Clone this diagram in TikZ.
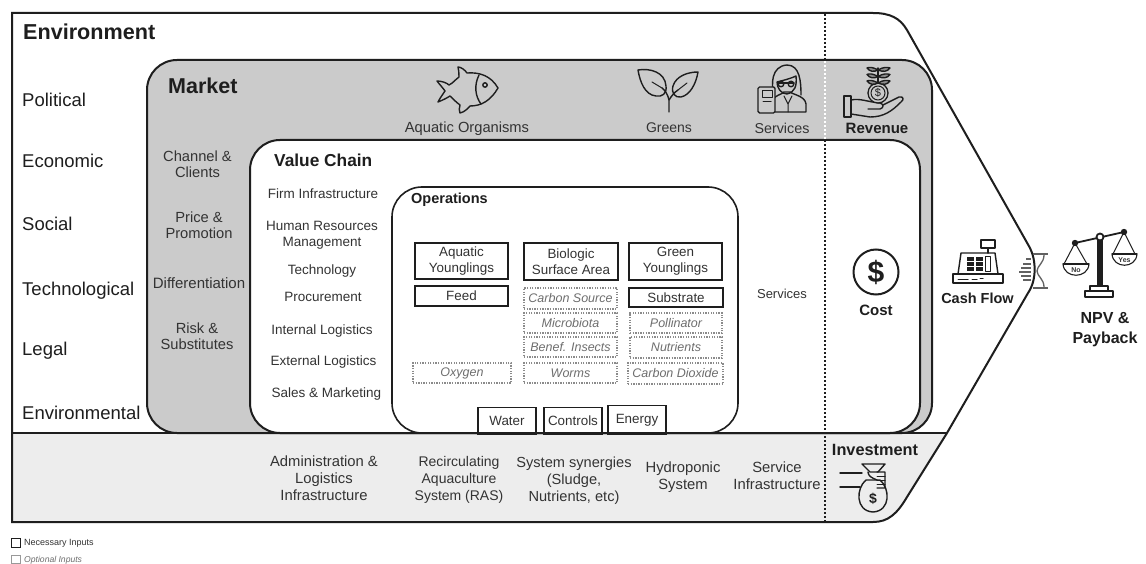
\documentclass[tikz,border=0pt]{standalone}
\usepackage{fontspec}
\setmainfont{Liberation Sans}
\newcommand{\fs}[1]{\fontsize{#1}{#1}\selectfont}
\definecolor{mkt}{HTML}{CBCBCB}
\definecolor{inv}{HTML}{EDEDED}
\definecolor{ink}{HTML}{1E1E1E}
\definecolor{txt}{HTML}{333333}
\definecolor{opt}{HTML}{6E6E6E}
\tikzset{
  frame/.style={draw=ink,line width=2pt},
  lbl/.style={inner sep=0pt,text=txt,align=center,font=\fs{13.5},text depth=0pt},
  mlbl/.style={lbl,font=\fs{14.7}},
  blbl/.style={lbl,font=\fs{14.8}},
  leftlbl/.style={inner sep=0pt,text=ink,anchor=west,font=\fs{18.5}},
  head/.style={inner sep=0pt,text=ink,font=\bfseries\fs{15},align=center},
  necbox/.style={draw=ink,line width=1.7pt,fill=white,inner sep=0pt,text=txt,align=center,font=\fs{13.4}},
  optbox/.style={draw=opt!80,line width=1.1pt,dash pattern=on 1.3pt off 1.3pt,inner sep=0pt,text=opt,font=\itshape\fs{12.5}},
  icon/.style={draw=ink,line width=1.4pt,line join=round,line cap=round},
  iconthin/.style={draw=ink,line width=1pt,line join=round,line cap=round},
}
\begin{document}
\begin{tikzpicture}[x=1pt,y=-1pt]
\useasboundingbox (0,0) rectangle (1146,564);
\fill[white] (0,0) rectangle (1146,564);
% investment band
\fill[inv] (12,433) -- (947,433) -- (907,497) .. controls (897,514) and (888,522) .. (873,522) -- (12,522) -- cycle;
% market
\path[fill=mkt,frame,rounded corners=30pt] (147,433) -- (147,60) -- (932,60) -- (932,433) -- cycle;
% value chain
\path[fill=white,frame,rounded corners=30pt] (250,433) -- (250,140) -- (920,140) -- (920,433) -- cycle;
% operations
\path[fill=white,frame,line width=1.6pt,rounded corners=30pt] (392,433) -- (392,187) -- (738,187) -- (738,433) -- cycle;
% base line and outer outline
\draw[frame] (12,433) -- (947,433);
\draw[frame] (12,13) -- (873,13) .. controls (890,13) and (900,18) .. (907,30) -- (1030,248) .. controls (1036,260) and (1037,280) .. (1028,293) -- (947,433) -- (907,497) .. controls (897,514) and (888,522) .. (873,522) -- (12,522) -- cycle;
% dotted divider
\draw[ink,line width=2.4pt,dash pattern=on 2.4pt off 1.6pt] (825,14) -- (825,60);
\draw[white,line width=2.4pt,dash pattern=on 2.4pt off 1.6pt] (825,61) -- (825,139);
\draw[ink,line width=2.4pt,dash pattern=on 2.4pt off 1.6pt] (825,140) -- (825,521);

% left column
\node[head,anchor=west,font=\bfseries\fs{21.6}] (envt) at (23,32) {Environment};
\node[leftlbl] (pol) at (22,100) {Political};
\node[leftlbl] (eco) at (22,161) {Economic};
\node[leftlbl] (soc) at (22,224) {Social};
\node[leftlbl] (tec) at (22,291) {Technological};
\node[leftlbl] (leg) at (22,351) {Legal};
\node[leftlbl] (envl) at (22,413) {Environmental};

% market
\node[head,anchor=west,font=\bfseries\fs{21.5}] (mkth) at (168,86) {Market};
\node[mlbl] (chan) at (197.5,164) {Channel \&\\[1.5pt]Clients};
\node[mlbl] (price) at (199,225) {Price \&\\[1.5pt]Promotion};
\node[mlbl,font=\fs{15}] (diff) at (199,283) {Differentiation};
\node[mlbl] (risk) at (197,336.5) {Risk \&\\[1.5pt]Substitutes};
\node[mlbl] (aq) at (467,127) {Aquatic Organisms};
\node[mlbl,font=\fs{14}] (gr) at (669,128) {Greens};
\node[mlbl,font=\fs{14.3}] (sv) at (782,128) {Services};
\node[head] (rev) at (877,128) {Revenue};

% value chain
\node[head,anchor=west,font=\bfseries\fs{17.3}] (vch) at (274,160) {Value Chain};
\node[lbl] (firm) at (323,194) {Firm Infrastructure};
\node[lbl] (hr) at (322,234) {Human Resources\\[2.5pt]Management};
\node[lbl] (tech) at (322,270) {Technology};
\node[lbl] (proc) at (323,297) {Procurement};
\node[lbl] (il) at (322,330) {Internal Logistics};
\node[lbl] (el) at (323.5,361) {External Logistics};
\node[lbl] (sm) at (326.5,393) {Sales \& Marketing};
\node[lbl,font=\fs{13}] (sv2) at (782,294) {Services};
\node[head] (cost) at (876,310) {Cost};

% operations
\node[head,anchor=west,font=\bfseries\fs{14.5}] (oph) at (411,200) {Operations};
\node[necbox,minimum width=93pt,minimum height=36pt] (ay) at (461.5,261) {Aquatic\\[2.6pt]Younglings};
\node[necbox,minimum width=94pt,minimum height=37pt] (bs) at (571,261.5) {Biologic\\[2.6pt]Surface Area};
\node[necbox,minimum width=93pt,minimum height=37pt] (gy) at (675.5,261.5) {Green\\[2.6pt]Younglings};
\node[necbox,minimum width=93pt,minimum height=20pt] (feed) at (461.5,296) {Feed};
\node[necbox,minimum width=94pt,minimum height=19pt] (subs) at (676,297.5) {Substrate};
\node[optbox,minimum width=93pt,minimum height=21pt] (cs) at (570.5,298.5) {Carbon Source};
\node[optbox,minimum width=93pt,minimum height=20pt] (mb) at (570.5,323) {Microbiota};
\node[optbox,minimum width=93pt,minimum height=20pt] (bi) at (570.5,347) {Benef. Insects};
\node[optbox,minimum width=93pt,minimum height=20pt] (wo) at (570.5,373) {Worms};
\node[optbox,minimum width=92pt,minimum height=20pt] (po) at (676,323) {Pollinator};
\node[optbox,minimum width=92pt,minimum height=21pt] (nu) at (676,347.5) {Nutrients};
\node[optbox,minimum width=95pt,minimum height=21pt] (cd) at (675.5,373.5) {Carbon Dioxide};
\node[optbox,minimum width=98pt,minimum height=20pt] (ox) at (462,373) {Oxygen};
\node[necbox,minimum width=58pt,minimum height=27pt] (wa) at (507,421) {Water};
\node[necbox,minimum width=58pt,minimum height=27pt] (co) at (573,421) {Controls};
\node[necbox,minimum width=58pt,minimum height=29pt] (en) at (637,420) {Energy};
\draw[frame] (392,433) ++(30,0) -- (708,433);

% investment row
\node[blbl] (adm) at (324,478) {Administration \&\\[2.2pt]Logistics\\[2.2pt]Infrastructure};
\node[blbl,font=\fs{14}] (ras) at (459,478) {Recirculating\\[3pt]Aquaculture\\[3pt]System (RAS)};
\node[blbl,font=\fs{14.6}] (syn) at (574,479) {System synergies\\[2.4pt](Sludge,\\[2.4pt]Nutrients, etc)};
\node[blbl] (hyd) at (683,475.5) {Hydroponic\\[2.2pt]System};
\node[blbl] (svi) at (777,475.5) {Service\\[2.2pt]Infrastructure};
\node[head,font=\bfseries\fs{16.3}] (invh) at (875,450) {Investment};

% right
\node[head,font=\bfseries\fs{14.5}] (cf) at (977.5,298) {Cash Flow};
\node[head,font=\bfseries\fs{16}] (npv) at (1105,330) {NPV \&\\[4pt]Payback};

% legend
\node[draw=ink,line width=1.6pt,minimum width=9pt,minimum height=9pt,inner sep=0pt] (lg1) at (16,543) {};
\node[inner sep=0pt,anchor=west,text=txt,font=\fs{9}] (lg1t) at (24,543) {Necessary Inputs};
\node[draw=opt!70,line width=.7pt,minimum width=9pt,minimum height=8pt,inner sep=0pt] (lg2) at (16,559) {};
\node[inner sep=0pt,anchor=west,text=opt,font=\itshape\fs{8.6}] (lg2t) at (24,560) {Optional Inputs};

% fish
\draw[icon] (498,88) .. controls (491,76) and (480,72) .. (467,73) .. controls (465,70) and (461,67) .. (458,67) .. controls (459,72) and (459,75) .. (459,77) .. controls (455,80) and (453,83) .. (449,85) .. controls (447,83) and (442,81) .. (437,81) .. controls (440,85) and (443,88) .. (445,91) .. controls (443,94) and (440,98) .. (438,102) .. controls (443,100) and (447,98) .. (450,96) .. controls (453,99) and (456,102) .. (460,105) .. controls (459,108) and (459,111) .. (460,113) .. controls (465,112) and (468,108) .. (470,106) .. controls (482,106) and (491,100) .. (498,88) -- cycle;
\draw[icon] (479,75) .. controls (474,85) and (475,96) .. (481,104);
\draw[icon] (485,85) circle (2.2pt);
% leaves
\draw[icon] (669,112) -- (669,100) .. controls (668,95) and (665,90) .. (662,88);
\draw[icon] (669,100) .. controls (672,95) and (675,92) .. (678,90);
\draw[icon] (638,70) .. controls (650,68) and (665,72) .. (666,86) .. controls (667,94) and (662,97) .. (656,96) .. controls (645,95) and (640,82) .. (638,70) -- cycle;
\draw[iconthin] (652,82) -- (662,88);
\draw[icon] (698,72) .. controls (688,72) and (676,76) .. (673,86) .. controls (671,93) and (675,98) .. (681,97) .. controls (690,95) and (696,84) .. (698,72) -- cycle;
\draw[iconthin] (687,83) -- (678,90);
% scientist
\draw[icon] (773,112) -- (773,100) .. controls (775,95) and (781,95) .. (784,92) -- (790,92) .. controls (794,95) and (805,96) .. (806,104) -- (806,112) -- cycle;
\draw[icon] (774,95) .. controls (771,85) and (771,66) .. (787,65) .. controls (800,65) and (801,82) .. (801,95);
\draw[icon] (777,82) .. controls (785,80) and (792,78) .. (796,76) .. controls (797,86) and (795,92) .. (787,94) .. controls (781,94) and (777,88) .. (777,82) -- cycle;
\draw[icon,line width=1.6pt] (778,83) -- (794,83);
\draw[icon] (781,84) circle (2.8pt) (791,84) circle (2.8pt);
\draw[iconthin] (784,96) -- (788,104) -- (792,96) (788,104) -- (788,112);
\path[draw=ink,line width=1.4pt,fill=mkt,rounded corners=1.5pt] (758,87) rectangle (775,113);
\draw[iconthin] (762,91) rectangle (772,98) (763,102) -- (771,102);
% revenue
\draw[icon] (844,96) rectangle (851,117);
\draw[icon] (851,100) .. controls (860,98) and (868,102) .. (880,103) .. controls (884,104) and (884,108) .. (880,109) -- (868,109);
\draw[icon] (883,105) -- (899,97) .. controls (904,96) and (904,100) .. (901,102) .. controls (892,111) and (884,117) .. (870,117) -- (851,114);
\draw[iconthin,line width=1.3pt,fill=mkt] (878,93) circle (10pt);
\draw[iconthin] (878,93) circle (7pt);
\node[inner sep=0pt,text=ink,font=\fs{11}] (revd) at (878,93) {\$};
\draw[icon] (878,83) -- (878,68);
\foreach \ly in {70,76.5,83}{
\draw[icon,fill=ink!50] (878,\ly) .. controls (873,\ly-3) and (869,\ly-3) .. (867,\ly-2) .. controls (870,\ly+2) and (874,\ly+2) .. (878,\ly) .. controls (883,\ly+2) and (887,\ly+2) .. (890,\ly-2) .. controls (887,\ly-3) and (883,\ly-3) .. (878,\ly) -- cycle;}
% cost
\node[circle,draw=ink,line width=2pt,minimum size=45pt,inner sep=0pt,text=ink,font=\bfseries\fs{30}] (costd) at (876,272) {\$};
% register
\draw[icon] (953,274) rectangle (1003,283);
\draw[icon] (958,274) -- (961,253) -- (995,253) -- (998,274);
\draw[icon] (981,240) rectangle (995,248) (988,248) -- (988,253);
\draw[iconthin] (985,257) rectangle (990,271);
\foreach \cx in {970,979}{\foreach \cy in {257,262,267}{\fill[ink] (\cx-3.5,\cy) rectangle (\cx+3.5,\cy+3.6);}}
\draw[iconthin] (958,279) -- (968,279) (972,279) -- (977,279) (980,278) -- (983,278);
% speed lines and hourglass
\foreach \ya/\xa in {259/1026,264/1023,268/1021,272/1019,276/1021,280/1023}{\draw[ink!70,line width=1.2pt] (\xa,\ya) -- (1031,\ya);}
\draw[ink!70,line width=2pt] (1033,254) -- (1048,254) (1033,288) -- (1048,288);
\draw[ink!70,line width=1.3pt] (1044,255) .. controls (1044,263) and (1037,266) .. (1037,271) .. controls (1037,276) and (1044,279) .. (1044,287);
% balance
\draw[icon,line width=1.8pt] (1075,243) -- (1124,232);
\fill[ink] (1097,238) rectangle (1103,286);
\draw[ink,line width=1.8pt,fill=white] (1100,237) circle (3.5pt);
\fill[ink] (1075,243) circle (3.2pt) (1124,232) circle (3.2pt);
\draw[icon,line width=1.8pt] (1090,286) rectangle (1108,291) (1085,291) rectangle (1113,297);
\draw[iconthin] (1075,243) -- (1064,264) (1075,243) -- (1087,264);
\draw[iconthin] (1124,232) -- (1113,254) (1124,232) -- (1135,254);
\path[draw=ink,line width=1.1pt,fill=white] (1063,264) -- (1089,264) .. controls (1088,279) and (1064,279) .. (1063,264) -- cycle;
\path[draw=ink,line width=1.1pt,fill=white] (1112,254) -- (1137,254) .. controls (1136,269) and (1113,269) .. (1112,254) -- cycle;
\draw[ink,line width=1.8pt] (1063,264) -- (1089,264) (1112,254) -- (1137,254);
\node[inner sep=0pt,text=txt,font=\bfseries\fs{7}] (no) at (1076,270.5) {No};
\node[inner sep=0pt,text=txt,font=\bfseries\fs{7}] (yes) at (1124.5,260) {Yes};
% money bag
\draw[icon] (840,473) -- (862,473) (840,487) -- (860,487);
\draw[icon] (862,464) -- (885,464) -- (878,472) -- (870,472) -- cycle;
\draw[icon] (866,480) .. controls (856,488) and (855,511) .. (873,512) .. controls (891,511) and (890,488) .. (880,480) -- cycle;
\draw[icon] (868,472) .. controls (868,476) and (872,478) .. (877,480) (877,472) -- (885,472) -- (885,488) -- (877,488);
\draw[iconthin] (877,476) -- (885,476) (877,480) -- (885,480) (877,484) -- (885,484);
\node[inner sep=0pt,text=ink,font=\bfseries\fs{14}] (bagd) at (873,499) {\$};
\end{tikzpicture}
\end{document}
